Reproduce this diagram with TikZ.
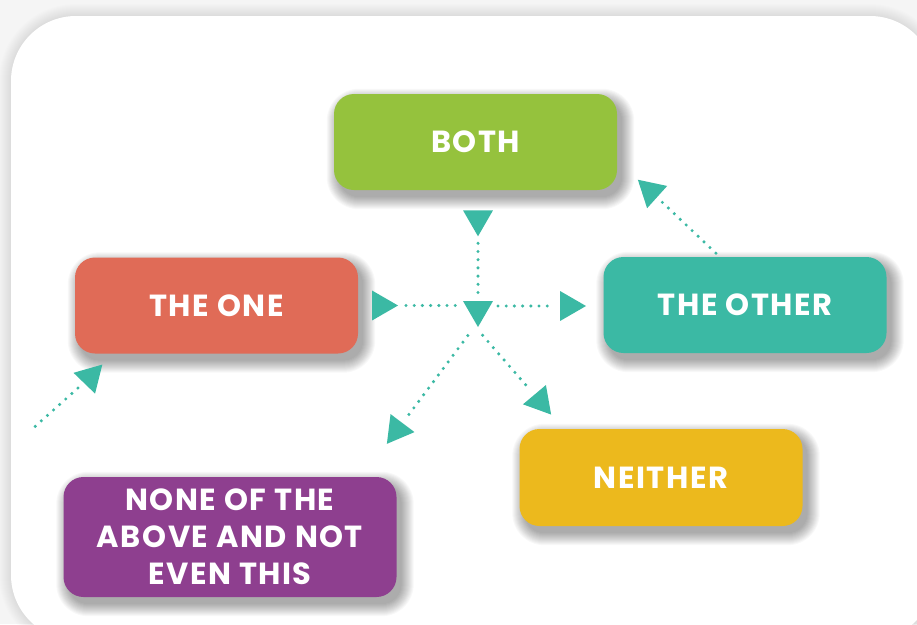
\documentclass[tikz,border=0pt]{standalone}
\usepackage{fontspec}
\setmainfont{Poppins}[LetterSpace=5]
\usetikzlibrary{shapes.geometric,calc}
\definecolor{cgreen}{HTML}{95C23D}
\definecolor{cred}{HTML}{E06B57}
\definecolor{cteal}{HTML}{3BB9A4}
\definecolor{cyellow}{HTML}{ECB91D}
\definecolor{cpurple}{HTML}{8E3F8F}
\definecolor{carrow}{HTML}{3BB9A4}
\definecolor{cbg}{HTML}{F5F5F5}
\pgfdeclarelayer{bg}
\pgfsetlayers{bg,main}
\begin{document}
\begin{tikzpicture}[x=1pt,y=-1pt,
  box/.style={rounded corners=20pt, minimum width=283pt, minimum height=96pt,
    inner sep=0pt, text=white, align=center,
    font=\fontsize{30.5}{37}\selectfont\bfseries},
  tri/.style={regular polygon, regular polygon sides=3, minimum size=34.6pt,
    inner sep=0pt, outer sep=0pt, fill=carrow, shape border rotate=#1},
  dots/.style={draw=carrow, line width=3.4pt, line cap=round, dash pattern=on 0pt off 8.2pt,
    shorten <=7pt, shorten >=6pt}
]
\useasboundingbox (0,0) rectangle (917,624);

\node[box, fill=cgreen] (both) at (475.5,142) {BOTH};
\node[box, fill=cred] (one) at (216.5,305.5) {THE ONE};
\node[box, fill=cteal] (other) at (745,305) {THE OTHER};
\node[box, fill=cyellow, minimum height=97pt] (neither) at (661,477.5) {NEITHER};
\node[box, fill=cpurple, minimum width=333pt, minimum height=120pt] (none) at (230,537)
  {NONE OF THE\\ABOVE AND NOT\\EVEN THIS};

\begin{pgfonlayer}{bg}
  \fill[cbg] (0,0) rectangle (917,624);
  \foreach \k in {1,...,12}
    \fill[black, opacity=0.006, rounded corners=65pt+\k pt]
      ($(11,16)+(-\k,-\k)$) rectangle ($(935,640)+(\k,\k)$);
  \fill[white, rounded corners=65pt] (11,16) rectangle (935,640);
  \foreach \n in {both,one,other,neither,none}
    \foreach \k in {0,...,12}
      \fill[black, opacity=0.026, rounded corners=20pt+\k pt]
        ($(\n.south west)+(5-\k,7+\k)$) rectangle ($(\n.north east)+(5+\k,7-\k)$);
\end{pgfonlayer}

% triangles
\node[tri=180] (t1) at (478,219) {};
\node[tri=180] (t2) at (478,309.7) {};
\node[tri=-90] (tL) at (380.7,305.5) {};
\node[tri=-90] (tR) at (568.7,306) {};
\node[tri=143] (tDL) at (397.3,430) {};
\node[tri=-140] (tDR) at (540,401.3) {};
\node[tri=-44] (tLL) at (90.3,377) {};
\node[tri=48] (tUR) at (650.7,191.3) {};

\coordinate (c1) at (462,305.5);
\coordinate (c2) at (491,306);
\coordinate (c3) at (472,330);
\coordinate (c4) at (478,330);
\coordinate (c5) at (30,431);
\coordinate (c6) at (721,258);

\draw[dots] (t1) -- (t2);
\draw[dots, shorten <=8pt, shorten >=4pt] (tL) -- (c1);
\draw[dots] (c2) -- (tR);
\draw[dots] (c3) -- (tDL);
\draw[dots] (c4) -- (tDR);
\draw[dots] (c5) -- (tLL);
\draw[dots] (c6) -- (tUR);
\end{tikzpicture}
\end{document}
